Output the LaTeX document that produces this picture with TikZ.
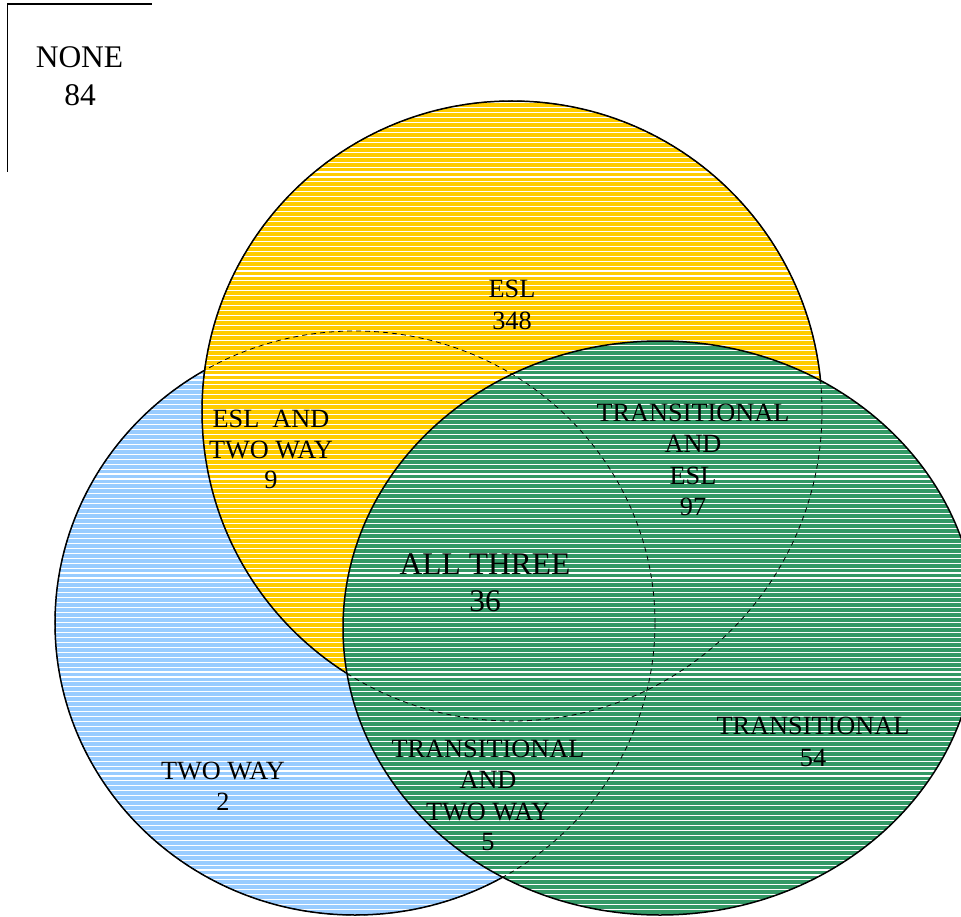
\documentclass[tikz,border=0pt]{standalone}
\usepackage{fontspec}
\setmainfont{Liberation Serif}
\definecolor{blueC}{HTML}{99CCFF}
\definecolor{yellowC}{HTML}{FFCC00}
\definecolor{greenC}{HTML}{339966}
\begin{document}
\begin{tikzpicture}[x=1pt,y=-1pt,
  lbl/.style={anchor=base, inner sep=0pt, font=\fontsize{26.3}{31.6}\selectfont},
  big/.style={anchor=base, inner sep=0pt, font=\fontsize{31.5}{37.8}\selectfont},
  outline/.style={draw=black, line width=1.5pt},
  hiddenline/.style={draw=black, line width=0.8pt, dash pattern=on 5pt off 4pt},
  stripe/.style={draw=white, line width=1.1pt},
  frameline/.style={draw=black, line width=1.7pt}]
\useasboundingbox (0,0) rectangle (961,917);
\clip (0,0) rectangle (961,917);

% centres
\coordinate (cB) at (355,623);
\coordinate (cY) at (512,411);
\coordinate (cG) at (660,628);

% TWO WAY (blue)
\begin{scope}
  \clip (cB) ellipse [x radius=300pt, y radius=292pt];
  \fill[blueC] (0,0) rectangle (961,917);
  \foreach \k in {0,...,185} \draw[stripe] (0,3.75+4.95*\k) -- (961,3.75+4.95*\k);
\end{scope}
\draw[outline] (cB) ellipse [x radius=300pt, y radius=292pt];

% ESL (yellow)
\begin{scope}
  \clip (cY) circle [radius=310pt];
  \fill[yellowC] (0,0) rectangle (961,917);
  \foreach \k in {0,...,185} \draw[stripe] (0,3.75+4.95*\k) -- (961,3.75+4.95*\k);
\end{scope}
\draw[outline] (cY) circle [radius=310pt];

% TRANSITIONAL (green)
\begin{scope}
  \clip (cG) ellipse [x radius=317pt, y radius=287pt];
  \fill[greenC] (0,0) rectangle (961,917);
  \foreach \k in {0,...,185} \draw[stripe] (0,3.75+4.95*\k) -- (961,3.75+4.95*\k);
\end{scope}
\draw[outline] (cG) ellipse [x radius=317pt, y radius=287pt];

% hidden outlines
\draw[hiddenline] (cB) ellipse [x radius=300pt, y radius=292pt];
\draw[hiddenline] (cY) circle [radius=310pt];

% NONE frame
\coordinate (fa) at (7.5,172);
\coordinate (fb) at (7.5,4.3);
\coordinate (fc) at (152,4.3);
\draw[frameline] (fa) -- (fb) -- (fc);

% labels
\node[big] (none1) at (79.5,67.5) {NONE};
\node[big] (none2) at (80,106) {84};

\node[lbl] (esl1) at (512,297.7) {ESL};
\node[lbl] (esl2) at (512,329.3) {348};

\node[lbl] (et1) at (271,427) {ESL~~AND};
\node[lbl] (et2) at (271,458) {TWO WAY};
\node[lbl] (et3) at (271,488) {9};

\node[lbl] (te1) at (693,421.7) {TRANSITIONAL};
\node[lbl] (te2) at (693,452.7) {AND};
\node[lbl] (te3) at (693,484) {ESL};
\node[lbl] (te4) at (693,515) {97};

\node[big] (all1) at (485,574) {ALL THREE};
\node[big] (all2) at (485,611.7) {36};

\node[lbl] (tr1) at (813,734) {TRANSITIONAL};
\node[lbl] (tr2) at (813,766) {54};

\node[lbl] (tt1) at (488,757.7) {TRANSITIONAL};
\node[lbl] (tt2) at (488,788.5) {AND};
\node[lbl] (tt3) at (488,820) {TWO WAY};
\node[lbl] (tt4) at (488,850) {5};

\node[lbl] (tw1) at (223,779) {TWO WAY};
\node[lbl] (tw2) at (223,810) {2};
\end{tikzpicture}
\end{document}
